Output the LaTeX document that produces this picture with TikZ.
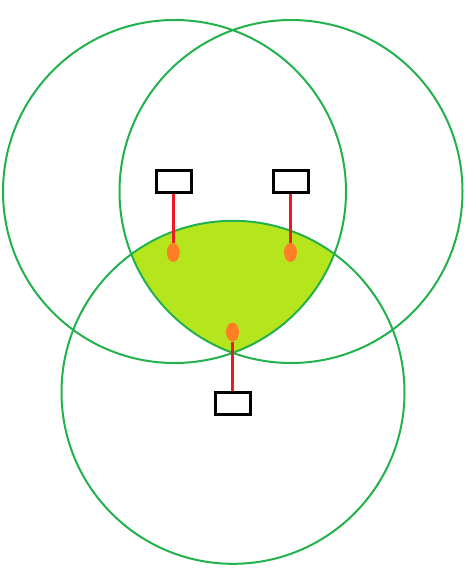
\documentclass[tikz,border=0pt]{standalone}
\usetikzlibrary{shapes.geometric}
\definecolor{ringgreen}{HTML}{22B14C}
\definecolor{zonefill}{HTML}{B5E61D}
\definecolor{linkred}{HTML}{ED1C24}
\definecolor{dotorange}{HTML}{FF7F27}
\tikzset{
  ring/.style={draw=ringgreen, line width=2pt},
  sensorbox/.style={draw=black, line width=3pt, rectangle, minimum width=35pt, minimum height=22pt, inner sep=0pt, fill=white},
  estdot/.style={ellipse, fill=dotorange, minimum width=13pt, minimum height=19pt, inner sep=0pt},
  link/.style={draw=linkred, line width=3pt}
}
\begin{document}
\begin{tikzpicture}[x=1pt,y=-1pt]
\useasboundingbox (0,0) rectangle (467,573);
\coordinate (cA) at (174.5,191.5);
\coordinate (cB) at (291,191.5);
\coordinate (cC) at (233,392.3);
\begin{scope}
  \clip (cA) circle[radius=171.5pt];
  \clip (cB) circle[radius=171.5pt];
  \fill[zonefill] (cC) circle[radius=171.5pt];
\end{scope}
\draw[ring] (cA) circle[radius=171.5pt];
\draw[ring] (cB) circle[radius=171.5pt];
\draw[ring] (cC) circle[radius=171.5pt];
\node[sensorbox] (r1) at (174,181.5) {};
\node[sensorbox] (r2) at (291,181.5) {};
\node[sensorbox] (r3) at (233,403.3) {};
\node[estdot] (d1) at (173.3,252.5) {};
\node[estdot] (d2) at (290.5,252.5) {};
\node[estdot] (d3) at (232.5,332) {};
\draw[link] (d1 |- r1.south) -- (d1);
\draw[link] (d2 |- r2.south) -- (d2);
\draw[link] (d3) -- (d3 |- r3.north);
\end{tikzpicture}
\end{document}
